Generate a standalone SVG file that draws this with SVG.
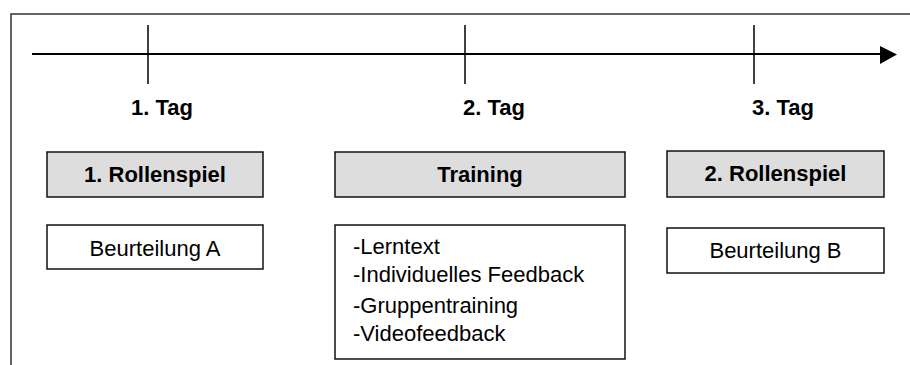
<svg xmlns="http://www.w3.org/2000/svg" width="910" height="365" viewBox="0 0 910 365">
  <style>
    .frame { fill: none; stroke: #333; stroke-width: 1.5; }
    .axis { fill: none; stroke: #000; stroke-width: 1.8; }
    .tick { fill: none; stroke: #000; stroke-width: 1.5; }
    .head { fill: #000; stroke: none; }
    .gray { fill: #dddddd; stroke: #111; stroke-width: 1.5; }
    .white { fill: #fff; stroke: #111; stroke-width: 1.5; }
    text { font-family: "Liberation Sans", Arial, sans-serif; font-size: 22px; fill: #000; }
    .b { font-weight: bold; }
    .c { text-anchor: middle; }
  </style>
  <rect width="910" height="365" fill="#fff"/>
  <path class="frame" d="M11,366 V14 H911"/>
  <g id="connectors">
    <line class="axis" x1="32" y1="54" x2="881" y2="54"/>
    <polygon class="head" points="880,46 897,54.5 880,64"/>
    <line class="tick" x1="148" y1="25" x2="148" y2="84"/>
    <line class="tick" x1="465" y1="25" x2="465" y2="84"/>
    <line class="tick" x1="754" y1="25" x2="754" y2="84"/>
  </g>
  <g id="tag1"><text class="b" x="131" y="115">1. Tag</text></g>
  <g id="tag2"><text class="b" x="463" y="115">2. Tag</text></g>
  <g id="tag3"><text class="b" x="752" y="115">3. Tag</text></g>
  <g id="rollenspiel1">
    <rect class="gray" x="47" y="152" width="216" height="45"/>
    <text class="b c" x="155" y="181.5">1. Rollenspiel</text>
  </g>
  <g id="training">
    <rect class="gray" x="335" y="152" width="290" height="45"/>
    <text class="b c" x="480" y="181.5">Training</text>
  </g>
  <g id="rollenspiel2">
    <rect class="gray" x="667" y="151" width="217" height="46"/>
    <text class="b c" x="775.5" y="180.5">2. Rollenspiel</text>
  </g>
  <g id="beurteilungA">
    <rect class="white" x="47" y="225" width="216" height="44"/>
    <text class="c" x="155" y="255.5">Beurteilung A</text>
  </g>
  <g id="trainingDetails">
    <rect class="white" x="335" y="225" width="290" height="134"/>
    <text x="353" y="254">-Lerntext</text>
    <text x="353" y="282">-Individuelles Feedback</text>
    <text x="353" y="313">-Gruppentraining</text>
    <text x="353" y="341">-Videofeedback</text>
  </g>
  <g id="beurteilungB">
    <rect class="white" x="667" y="228" width="217" height="45"/>
    <text class="c" x="775.5" y="257.5">Beurteilung B</text>
  </g>
</svg>
